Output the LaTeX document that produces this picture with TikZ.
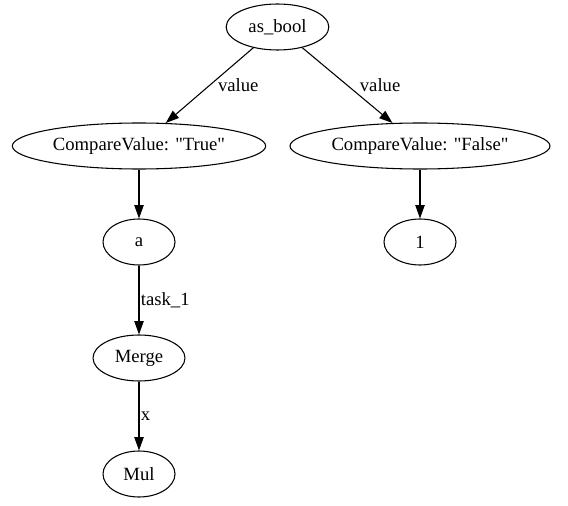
\documentclass[tikz,border=0pt]{standalone}
\usepackage{fontspec}
\setmainfont{Liberation Serif}
\usetikzlibrary{arrows.meta,shapes.geometric}

\begin{document}
\begin{tikzpicture}[
  x=0.75pt, y=-0.75pt,
  >={Triangle[length=10pt,width=7pt]}, line width=0.8pt,
  vertex/.style={ellipse, draw=black, inner sep=0pt, minimum height=34.5pt,
                 font=\fontsize{14}{16}\selectfont},
  lbl/.style={inner sep=1pt, font=\fontsize{14}{16}\selectfont}
]
\useasboundingbox (0,0) rectangle (568,506);

\node[vertex, minimum width=77pt]  (asbool)  at (277.5,27) {as\_bool};
\node[vertex, minimum width=190pt] (cvtrue)  at (139,146)  {CompareValue: \textquotedbl True\textquotedbl};
\node[vertex, minimum width=195pt] (cvfalse) at (420,146)  {CompareValue: \textquotedbl False\textquotedbl};
\node[vertex, minimum width=54pt]  (a)       at (139,242)  {a};
\node[vertex, minimum width=54pt]  (one)     at (420,242)  {1};
\node[vertex, minimum width=69pt]  (merge)   at (139,358)  {Merge};
\node[vertex, minimum width=54pt]  (mul)     at (139,474)  {Mul};

\draw[->] (asbool) -- node[lbl, right, xshift=5pt]{value} (cvtrue);
\draw[->] (asbool) -- node[lbl, right, xshift=8pt]{value} (cvfalse);
\draw[->] (cvtrue) -- (a);
\draw[->] (cvfalse) -- (one);
\draw[->] (a) -- node[lbl, right]{task\_1} (merge);
\draw[->] (merge) -- node[lbl, right]{x} (mul);

\end{tikzpicture}
\end{document}
